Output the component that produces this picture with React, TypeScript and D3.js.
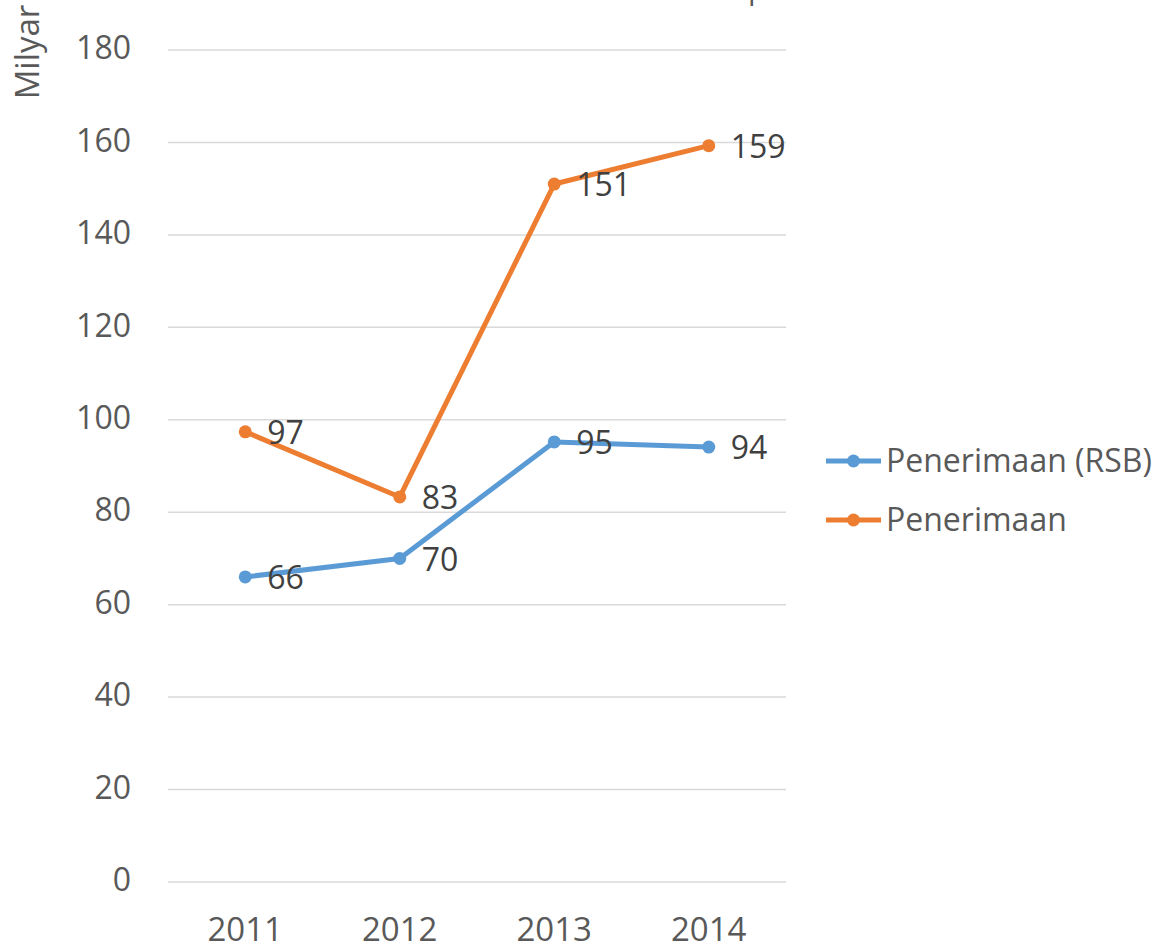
import React from "react";
import * as d3 from "d3";

const years = ["2011", "2012", "2013", "2014"];
const rsbValues = [66, 70, 95.2, 94.1];
const penerimaanValues = [97.4, 83.3, 151, 159.3];
const yTicks = [0, 20, 40, 60, 80, 100, 120, 140, 160, 180];
const seriesNames = ["Penerimaan (RSB)", "Penerimaan"];
const seriesColors = ["#5B9BD5", "#ED7D31"];

const W = 1163;
const H = 946;
const FONT = "'Open Sans', 'Liberation Sans', sans-serif";
const TEXT = "#595959";

export default function App() {
  const x = d3.scalePoint<string>().domain(years).range([168, 786]).padding(0.5);
  const y = d3.scaleLinear().domain([0, 180]).range([882, 50]);
  const series = [rsbValues, penerimaanValues];
  const line = d3
    .line<number>()
    .x((_, i) => x(years[i]) as number)
    .y((d) => y(d));

  return (
    <svg
      width={W}
      height={H}
      style={{ position: "absolute", left: 0, top: 0, background: "#fff" }}
      fontFamily={FONT}
    >
      <rect width={W} height={H} fill="#fff" />
      {/* cut-off title fragment */}
      <text x={748} y={-1} fontSize={30} fill={TEXT}>p</text>
      {/* gridlines */}
      {yTicks.map((t) => (
        <line key={t} x1={168} x2={786} y1={y(t)} y2={y(t)} stroke="#d9d9d9" strokeWidth={1.5} />
      ))}
      {/* y tick labels */}
      {yTicks.map((t) => (
        <text key={t} x={131} y={y(t) - 2} dy="0.35em" textAnchor="end" fontSize={32} fill={TEXT}>
          {t}
        </text>
      ))}
      {/* y axis title */}
      <text
        transform={`translate(39, 52) rotate(-90)`}
        textAnchor="middle"
        fontSize={33}
        fill={TEXT}
      >
        Milyar
      </text>
      {/* x labels */}
      {years.map((yr) => (
        <text key={yr} x={x(yr)} y={941} textAnchor="middle" fontSize={33} fill={TEXT}>
          {yr}
        </text>
      ))}
      {/* series */}
      {series.map((vals, si) => (
        <g key={si}>
          <path d={line(vals) || ""} fill="none" stroke={seriesColors[si]} strokeWidth={5} strokeLinejoin="round" />
          {vals.map((v, i) => (
            <circle key={i} cx={x(years[i])} cy={y(v)} r={6.5} fill={seriesColors[si]} />
          ))}
          {vals.map((v, i) => (
            <text
              key={"l" + i}
              x={(x(years[i]) as number) + 22}
              y={y(v) + 1}
              dy="0.35em"
              fontSize={32}
              fill="#404040"
            >
              {Math.round(v)}
            </text>
          ))}
        </g>
      ))}
      {/* legend */}
      {seriesNames.map((name, i) => {
        const ly = 461 + i * 59;
        return (
          <g key={name}>
            <line x1={826} x2={881} y1={ly} y2={ly} stroke={seriesColors[i]} strokeWidth={5} />
            <circle cx={853.5} cy={ly} r={6.5} fill={seriesColors[i]} />
            <text x={886} y={ly} dy="0.35em" fontSize={32} fill={TEXT}>
              {name}
            </text>
          </g>
        );
      })}
    </svg>
  );
}
